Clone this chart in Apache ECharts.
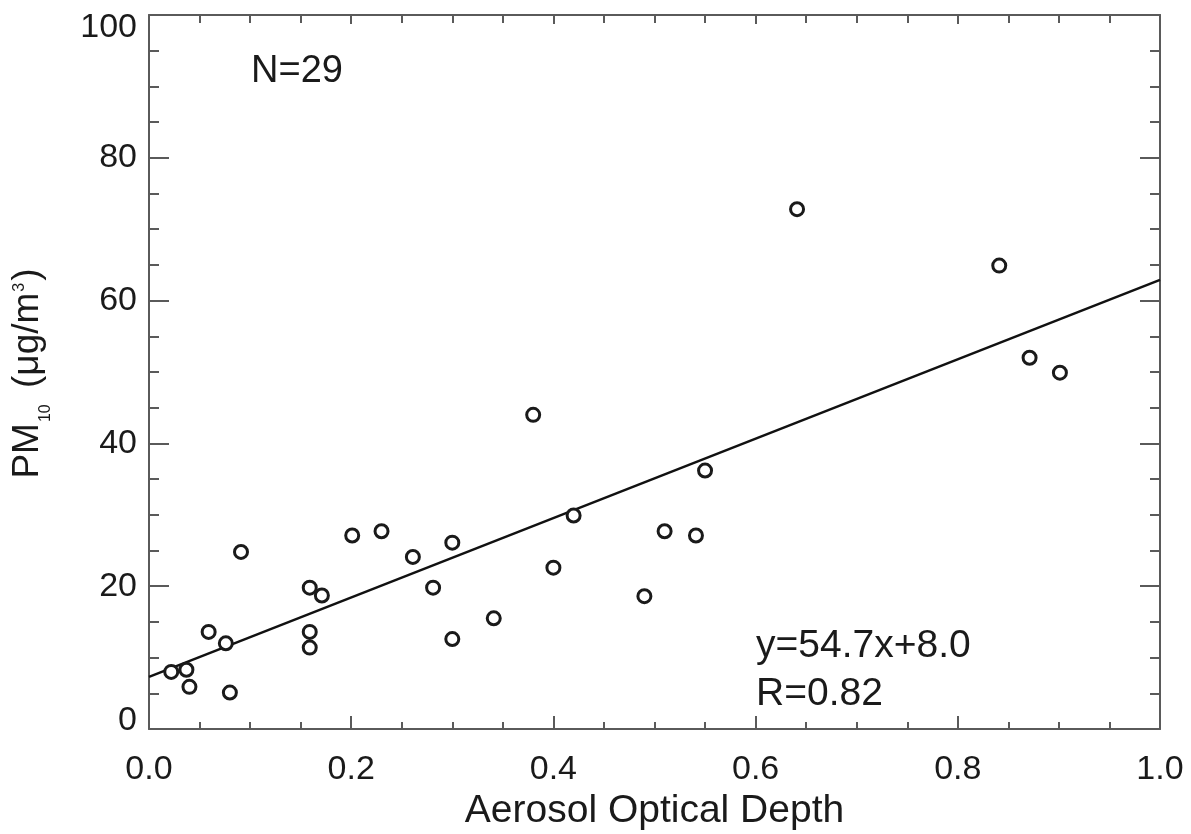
<!DOCTYPE html>
<html>
<head>
<meta charset="utf-8">
<script src="https://cdn.jsdelivr.net/npm/echarts@6/dist/echarts.min.js"></script>
<style>
html,body{margin:0;padding:0;background:#fff;}
#chart{width:1191px;height:834px;}
</style>
</head>
<body>
<div id="chart"></div>
<script>
// Aerosol Optical Depth (x) and PM10 (y) pairs
var aod = [0.022, 0.037, 0.040, 0.059, 0.076, 0.080, 0.091, 0.159, 0.171, 0.159,
           0.159, 0.201, 0.230, 0.261, 0.281, 0.300, 0.300, 0.341, 0.380, 0.400,
           0.420, 0.490, 0.510, 0.541, 0.550, 0.641, 0.841, 0.871, 0.901];
var pm10 = [8.0, 8.3, 5.9, 13.6, 12.0, 5.1, 24.8, 19.8, 18.7, 13.6,
            11.4, 27.1, 27.7, 24.1, 19.8, 26.1, 12.6, 15.5, 44.0, 22.6,
            29.9, 18.6, 27.7, 27.1, 36.2, 72.8, 64.9, 52.0, 49.9];
// Regression line end points as drawn
var fitX = [0.0, 1.0];
var fitY = [7.3, 62.9];
// Tick labels
var xTickLabels = ['0.0', '0.2', '0.4', '0.6', '0.8', '1.0'];
var yTickLabels = ['0', '20', '40', '60', '80', '100'];
var nText = 'N=29';
var eqText = 'y=54.7x+8.0';
var rText = 'R=0.82';

var FONT = '"Liberation Sans", Arial, Helvetica, sans-serif';
var TXT = '#1a1a1a';
var AXC = '#5a5a5a';

var pts = aod.map(function (x, i) { return [x, pm10[i]]; });
var fit = fitX.map(function (x, i) { return [x, fitY[i]]; });

var chart = echarts.init(document.getElementById('chart'), null, {renderer: 'canvas'});

var axisLineStyle = {show: true, onZero: false, lineStyle: {color: AXC, width: 2}};

var option = {
  animation: false,
  backgroundColor: '#fff',
  grid: {left: 149, right: 31, top: 15, bottom: 105, containLabel: false, outerBoundsMode: 'none'},
  xAxis: [
    {
      type: 'value', position: 'bottom', min: 0, max: 1, interval: 0.2,
      axisLine: axisLineStyle,
      axisTick: {show: true, inside: true, length: 13, lineStyle: {color: AXC, width: 2}},
      minorTick: {show: true, splitNumber: 4, length: 7, lineStyle: {color: AXC, width: 2}},
      splitLine: {show: false}, minorSplitLine: {show: false},
      axisLabel: {
        show: true, margin: 24, color: TXT, fontSize: 34, fontFamily: FONT,
        formatter: function (v) { return xTickLabels[Math.round(v / 0.2)]; }
      },
      name: 'Aerosol Optical Depth', nameLocation: 'middle', nameGap: 61,
      nameTextStyle: {color: TXT, fontSize: 39, fontFamily: FONT}
    },
    {
      type: 'value', position: 'top', min: 0, max: 1, interval: 0.2,
      axisLine: axisLineStyle,
      axisTick: {show: true, inside: true, length: 9, lineStyle: {color: AXC, width: 2}},
      minorTick: {show: true, splitNumber: 4, length: 8, lineStyle: {color: AXC, width: 2}},
      splitLine: {show: false}, minorSplitLine: {show: false},
      axisLabel: {show: false}
    }
  ],
  yAxis: [
    {
      type: 'value', position: 'left', min: 0, max: 100, interval: 20,
      axisLine: axisLineStyle,
      axisTick: {show: true, inside: true, length: 20, lineStyle: {color: AXC, width: 2}},
      minorTick: {show: true, splitNumber: 4, length: 10, lineStyle: {color: AXC, width: 2}},
      splitLine: {show: false}, minorSplitLine: {show: false},
      axisLabel: {
        show: true, margin: 12, color: TXT, fontSize: 34, fontFamily: FONT,
        formatter: function (v) {
          var l = yTickLabels[Math.round(v / 20)];
          if (v === 0) return '{lo|' + l + '}';
          if (v === 100) return '{hi|' + l + '}';
          return l;
        },
        rich: {
          lo: {color: TXT, fontSize: 34, fontFamily: FONT, padding: [0, 0, 16, 0]},
          hi: {color: TXT, fontSize: 34, fontFamily: FONT, padding: [26, 0, 0, 0]}
        }
      }
    },
    {
      type: 'value', position: 'right', min: 0, max: 100, interval: 20,
      axisLine: axisLineStyle,
      axisTick: {show: true, inside: true, length: 20, lineStyle: {color: AXC, width: 2}},
      minorTick: {show: true, splitNumber: 4, length: 10, lineStyle: {color: AXC, width: 2}},
      splitLine: {show: false}, minorSplitLine: {show: false},
      axisLabel: {show: false}
    }
  ],
  series: [
    {
      type: 'line', xAxisIndex: 0, yAxisIndex: 0, data: fit,
      showSymbol: false, symbol: 'none', z: 2,
      lineStyle: {color: '#111', width: 2.5}
    },
    {
      type: 'scatter', xAxisIndex: 0, yAxisIndex: 0, data: pts,
      symbol: 'circle', symbolSize: 13, z: 3,
      itemStyle: {color: '#ffffff', borderColor: '#1a1a1a', borderWidth: 3, opacity: 1}
    }
  ],
  graphic: [
    {type: 'text', left: 251, top: 53, style: {text: nText, fill: TXT, font: '38px ' + FONT}},
    {type: 'text', left: 756, top: 627, style: {text: eqText, fill: TXT, font: '39px ' + FONT}},
    {type: 'text', left: 756, top: 675, style: {text: rText, fill: TXT, font: '39px ' + FONT}},
    {
      type: 'text', x: 28, y: 373.5, rotation: Math.PI / 2,
      style: {
        text: '{a|PM}{s|10}{a| (μg/m}{p|3}{a|)}',
        align: 'center', verticalAlign: 'middle',
        rich: {
          a: {fill: TXT, fontSize: 37, fontFamily: FONT, lineHeight: 37, verticalAlign: 'top'},
          s: {fill: TXT, fontSize: 16, fontFamily: FONT, lineHeight: 16, verticalAlign: 'top', padding: [28, 6, 0, 1]},
          p: {fill: TXT, fontSize: 16, fontFamily: FONT, lineHeight: 16, verticalAlign: 'top', padding: [2, 2, 0, 1]}
        }
      }
    }
  ]
};
chart.setOption(option);
</script>
</body>
</html>
